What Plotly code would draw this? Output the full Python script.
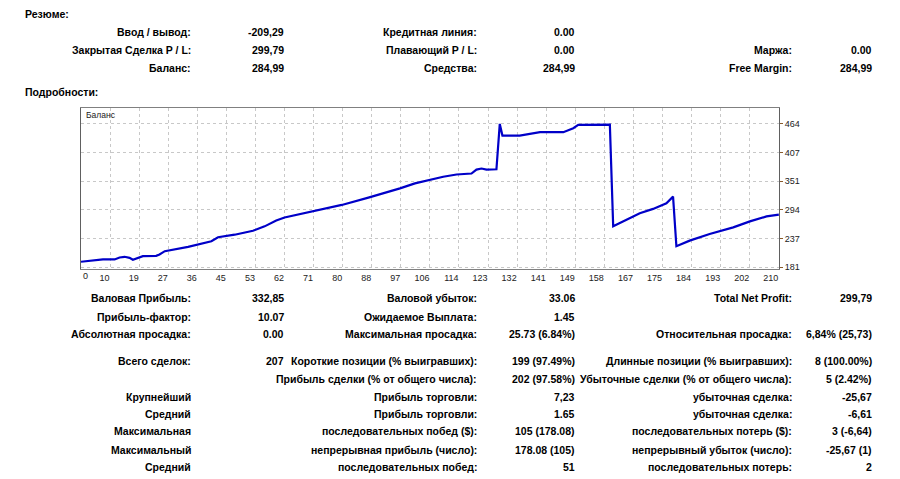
import plotly.graph_objects as go

# ---------------- data ----------------
trade_idx = [0, 5.1, 6.6, 10.1, 11.6, 13.1, 14.6, 15.6, 16.6, 18.6, 22.6, 23.6, 25.2, 27.1,
             32.2, 39.2, 41.2, 46.2, 51.7, 55.2, 58.7, 61.2, 67.2, 71.0, 78.4, 86.4, 89.9,
             95.9, 100.4, 103.9, 108.9, 112.9, 117.4, 118.9, 120.4, 121.9, 124.9, 125.9,
             126.7, 131.9, 138.0, 145.0, 148.0, 149.5, 159.0, 160.0, 164.0, 168.0, 172.0,
             176.0, 178.0, 179.0, 183.0, 189.0, 196.1, 201.1, 206.1, 209.8]
balance = [191.8, 194.3, 196.3, 196.3, 200.2, 201.6, 199.6, 195.7, 198.2, 202.9, 203.5, 206.1,
           212.7, 214.7, 221.1, 232.3, 240.2, 245.2, 253.1, 261.7, 273.4, 279.3, 287.7, 294.2,
           304.0, 318.5, 324.9, 336.7, 346.5, 351.8, 359.6, 364.1, 366.1, 373.9, 375.9, 373.9,
           374.5, 464.0, 441.1, 441.1, 447.7, 447.7, 455.6, 462.0, 462.6, 261.7, 274.6, 287.7,
           296.2, 307.3, 320.4, 222.5, 233.5, 246.6, 259.7, 271.5, 281.3, 284.99]

x_tick_labels = ["10", "19", "27", "36", "45", "53", "62", "71", "80", "88", "97", "106",
                 "114", "123", "132", "141", "149", "158", "167", "175", "184", "193", "202", "210"]
y_tick_vals = [181, 237.6, 294.2, 350.8, 407.4, 464]
y_tick_labels = ["181", "237", "294", "351", "407", "464"]

# summary block (label, value) per column
summary_col1 = [("Ввод / вывод:", "-209,29"), ("Закрытая Сделка P / L:", "299,79"), ("Баланс:", "284,99")]
summary_col2 = [("Кредитная линия:", "0.00"), ("Плавающий P / L:", "0.00"), ("Средства:", "284,99")]
summary_col3 = [None, ("Маржа:", "0.00"), ("Free Margin:", "284,99")]

# details block rows: (col1 label, col1 value, col2 label, col2 value, col3 label, col3 value)
details_rows = [
    ("Валовая Прибыль:", "332,85", "Валовой убыток:", "33.06", "Total Net Profit:", "299,79"),
    ("Прибыль-фактор:", "10.07", "Ожидаемое Выплата:", "1.45", "", ""),
    ("Абсолютная просадка:", "0.00", "Максимальная просадка:", "25.73 (6.84%)", "Относительная просадка:", "6,84% (25,73)"),
    ("Всего сделок:", "207", "Короткие позиции (% выигравших):", "199 (97.49%)", "Длинные позиции (% выигравших):", "8 (100.00%)"),
    ("", "", "Прибыль сделки (% от общего числа):", "202 (97.58%)", "Убыточные сделки (% от общего числа):", "5 (2.42%)"),
    ("Крупнейший", "", "Прибыль торговли:", "7,23", "убыточная сделка:", "-25,67"),
    ("Средний", "", "Прибыль торговли:", "1.65", "убыточная сделка:", "-6,61"),
    ("Максимальная", "", "последовательных побед ($):", "105 (178.08)", "последовательных потерь ($):", "3 (-6,64)"),
    ("Максимальный", "", "непрерывная прибыль (число):", "178.08 (105)", "непрерывный убыток (число):", "-25,67 (1)"),
    ("Средний", "", "последовательных побед:", "51", "последовательных потерь:", "2"),
]

# ---------------- layout constants ----------------
W, H = 900, 479
FONT = "Liberation Sans"
BOLD_SIZE = 10.5
TXT = "#000000"
col_right = [192, 285, 478, 576, 793, 873]   # right edges of text columns (px)
summary_y = [32, 50, 68.5]
details_y = [301, 319.3, 337.3, 364, 382.3, 400, 417.3, 435, 453.3, 470.7]

plot_left, plot_right, plot_top, plot_bottom = 81, 779, 109, 271
x_end = 209.85
step = 209.8 / 24


def px(x):
    return x / W


def py(y):
    return 1 - y / H


annotations = []


def add_text(text, x, y, anchor="right", size=BOLD_SIZE, bold=True, color=TXT):
    if not text:
        return
    annotations.append(dict(
        text=f"<b>{text}</b>" if bold else text,
        x=px(x), y=py(y), xref="paper", yref="paper",
        xanchor=anchor, yanchor="middle", showarrow=False,
        font=dict(family=FONT, size=size, color=color), borderpad=0))


add_text("Резюме:", 24, 14, anchor="left")
add_text("Подробности:", 24, 93, anchor="left")

for i, cols in enumerate(zip(summary_col1, summary_col2, summary_col3)):
    for c, item in enumerate(cols):
        if item is None:
            continue
        add_text(item[0], col_right[2 * c], summary_y[i])
        add_text(item[1], col_right[2 * c + 1], summary_y[i])

for i, row in enumerate(details_rows):
    for c in range(6):
        add_text(row[c], col_right[c], details_y[i])

# chart inner labels
add_text("Баланс", 85, 116, anchor="left", size=8.5, bold=False, color="#222222")
add_text("0", plot_left + 1, 278, anchor="left", size=9, bold=False, color="#222222")

fig = go.Figure()
fig.add_trace(go.Scatter(
    x=trade_idx, y=balance, mode="lines",
    line=dict(color="#0000c8", width=2.2),
    hoverinfo="skip", showlegend=False))

fig.update_layout(
    width=W, height=H,
    margin=dict(l=0, r=0, t=0, b=0),
    paper_bgcolor="white", plot_bgcolor="white",
    annotations=annotations,
    xaxis=dict(
        domain=[px(plot_left), px(plot_right)],
        range=[0, x_end],
        tickvals=[step * (k + 1) for k in range(len(x_tick_labels))],
        ticktext=x_tick_labels,
        ticklabelposition="outside left",
        ticks="", showgrid=True, gridcolor="#c8c8c8", griddash="3px,3px", gridwidth=1,
        showline=True, linecolor="#808080", linewidth=1, mirror=True,
        zeroline=False, fixedrange=True,
        tickfont=dict(family=FONT, size=9, color="#222222"),
    ),
    yaxis=dict(
        domain=[py(plot_bottom), py(plot_top)],
        range=[178, 495.3],
        side="right",
        tickvals=y_tick_vals, ticktext=y_tick_labels,
        ticks="outside", ticklen=3, tickcolor="#8a5a2a",
        showgrid=True, gridcolor="#c8c8c8", griddash="3px,3px", gridwidth=1,
        showline=True, linecolor="#606060", linewidth=1, mirror=True,
        zeroline=False, fixedrange=True,
        tickfont=dict(family=FONT, size=9, color="#222222"),
    ),
)

fig.write_html("out.html")
